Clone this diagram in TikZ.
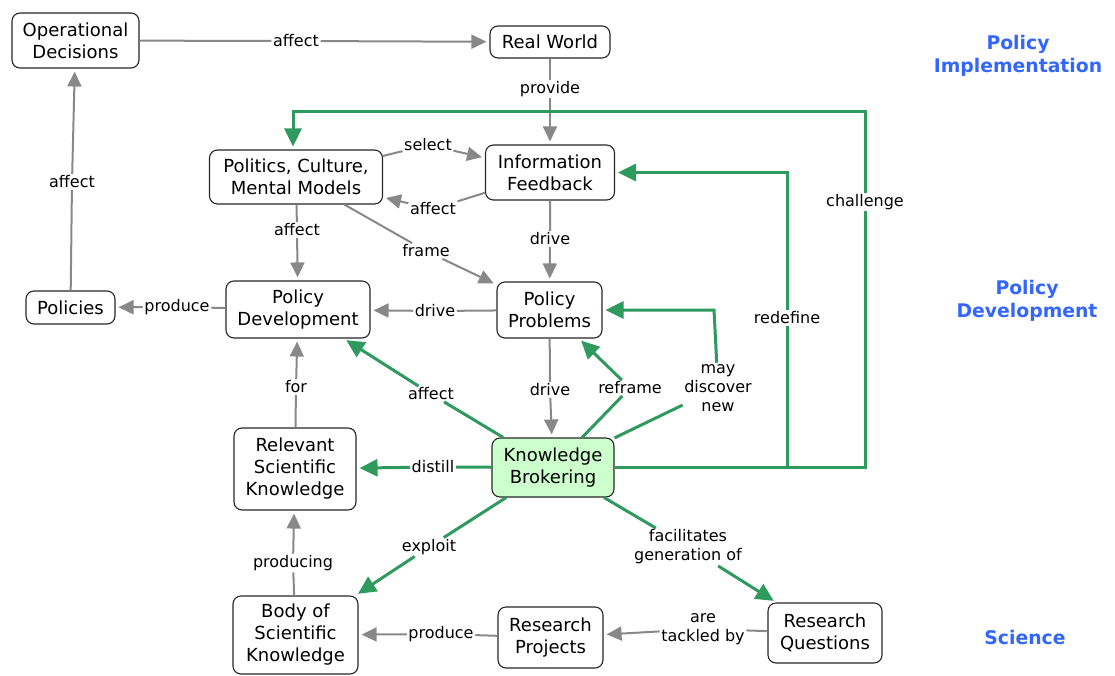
\documentclass[tikz,border=0pt]{standalone}
\usepackage{fontspec}
\setmainfont{DejaVu Sans}
\usetikzlibrary{arrows.meta}
\definecolor{linkgray}{RGB}{136,136,136}
\definecolor{brokergreen}{RGB}{46,154,94}
\definecolor{brokerfill}{RGB}{204,255,204}
\definecolor{zoneblue}{RGB}{51,102,255}

\begin{document}
\begin{tikzpicture}[x=1pt,y=-1pt,
  concept/.style={draw=black!85, line width=1.1pt, rounded corners=8pt, fill=white,
    align=center, inner sep=2pt, font=\fontsize{18}{22}\selectfont},
  broker/.style={concept, fill=brokerfill},
  linklabel/.style={fill=white, inner sep=1.5pt, align=center, font=\fontsize{16}{19}\selectfont},
  graylink/.style={draw=linkgray, line width=2pt, -{Triangle[length=15pt,width=14pt]}, shorten >=3pt},
  greenlink/.style={draw=brokergreen, line width=3pt, -{Triangle[length=18pt,width=17pt]}, shorten >=3pt},
  zone/.style={text=zoneblue, align=center, font=\bfseries\fontsize{18.8}{23}\selectfont}]

\useasboundingbox (0,0) rectangle (1115,675);

% concepts
\node[concept, minimum width=127pt, minimum height=55pt] (opd) at (75.5,40.5) {Operational\\Decisions};
\node[concept, minimum width=120pt, minimum height=32pt] (rw) at (550,42) {Real World};
\node[concept, minimum width=173pt, minimum height=54pt] (pol) at (296,177) {Politics, Culture,\\Mental Models};
\node[concept, minimum width=129pt, minimum height=55pt] (info) at (550,172.5) {Information\\Feedback};
\node[concept, minimum width=89pt, minimum height=33pt] (pols) at (70.5,307.5) {Policies};
\node[concept, minimum width=144pt, minimum height=57pt] (pdev) at (298,309.5) {Policy\\Development};
\node[concept, minimum width=105pt, minimum height=56pt] (pp) at (549.5,310) {Policy\\Problems};
\node[concept, minimum width=122pt, minimum height=82pt] (rsk) at (295,469) {Relevant\\Scientific\\Knowledge};
\node[broker, minimum width=122pt, minimum height=59pt] (kb) at (553,467.5) {Knowledge\\Brokering};
\node[concept, minimum width=125pt, minimum height=78pt] (bsk) at (295.5,635) {Body of\\Scientific\\Knowledge};
\node[concept, minimum width=105pt, minimum height=61pt] (rp) at (550.5,637.5) {Research\\Projects};
\node[concept, minimum width=114pt, minimum height=60pt] (rq) at (825,633) {Research\\Questions};

% zone headings
\node[zone] (zimpl) at (1018,56) {Policy\\Implementation};
\node[zone] (zdev) at (1027,301) {Policy\\Development};
\node[zone] (zsci) at (1025,637) {Science};

% link labels
\node[linklabel] (l1) at (296,41) {affect};
\node[linklabel] (l2) at (550,89) {provide};
\node[linklabel] (l3) at (72,182) {affect};
\node[linklabel] (l4) at (428,145) {select};
\node[linklabel] (l5) at (433,209) {affect};
\node[linklabel] (l6) at (297,230) {affect};
\node[linklabel] (l7) at (426,251) {frame};
\node[linklabel] (l8) at (550,239) {drive};
\node[linklabel] (l9) at (435,311) {drive};
\node[linklabel] (l10) at (177,307) {produce};
\node[linklabel] (l11) at (296,387) {for};
\node[linklabel] (l12) at (293,563) {producing};
\node[linklabel] (l13) at (441,634) {produce};
\node[linklabel] (l14) at (703,629) {are\\tackled by};
\node[linklabel] (l15) at (550,390) {drive};

\node[linklabel] (g1) at (431,394) {affect};
\node[linklabel] (g2) at (630,388) {reframe};
\node[linklabel] (g3) at (718,388) {may\\discover\\new};
\node[linklabel] (g4) at (787,318) {redefine};
\node[linklabel] (g5) at (865,202) {challenge};
\node[linklabel] (g6) at (433,467) {distill};
\node[linklabel] (g7) at (429,547) {exploit};
\node[linklabel] (g8) at (688,547) {facilitates\\generation of};

% route corners
\coordinate (mayc) at (714,310);
\coordinate (redx) at (787,0);
\coordinate (chtop) at (865,111);
\coordinate (poltop) at (293,111);

% gray links
\draw[graylink] (opd) -- (l1) -- (rw);
\draw[graylink] (rw) -- (l2) -- (info);
\draw[graylink] (pols) -- (l3) -- (opd);
\draw[graylink] (pol) -- (l4) -- (info);
\draw[graylink] (info) -- (l5) -- (pol);
\draw[graylink] (pol) -- (l6) -- (pdev);
\draw[graylink] (pol) -- (l7) -- (pp);
\draw[graylink] (info) -- (l8) -- (pp);
\draw[graylink] (pp) -- (l9) -- (pdev);
\draw[graylink] (pdev) -- (l10) -- (pols);
\draw[graylink] (rsk) -- (l11) -- (pdev);
\draw[graylink] (bsk) -- (l12) -- (rsk);
\draw[graylink] (rp) -- (l13) -- (bsk);
\draw[graylink] (rq) -- (l14) -- (rp);
\draw[graylink] (pp) -- (l15) -- (kb);

% knowledge brokering links
\draw[greenlink] (kb) -- (g1) -- (pdev);
\draw[greenlink] (kb) -- (g2) -- (pp);
\draw[greenlink] (kb) -- (g3) -- (mayc) -- (pp.east);
\draw[greenlink] (kb.east) -- (kb.east -| redx) -- (g4) -- (redx |- info.east) -- (info.east);
\draw[greenlink] (kb.east) -- (kb.east -| chtop) -- (g5) -- (chtop) -- (poltop) -- (poltop |- pol.north);
\draw[greenlink] (kb) -- (g6) -- (rsk);
\draw[greenlink] (kb) -- (g7) -- (bsk);
\draw[greenlink] (kb) -- (g8) -- (rq);
\end{tikzpicture}
\end{document}
